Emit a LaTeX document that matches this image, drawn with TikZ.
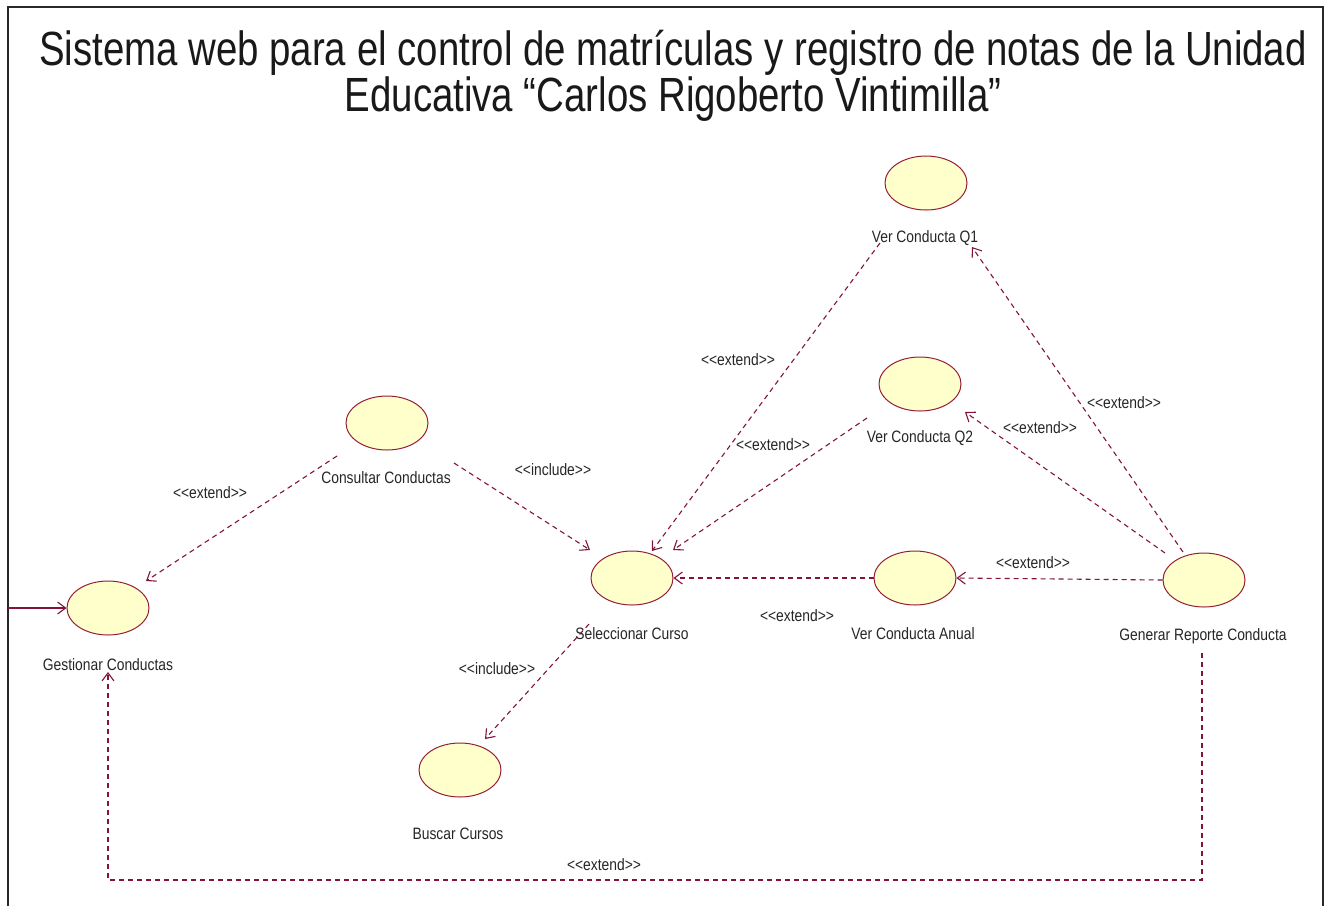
\documentclass[tikz,border=0pt]{standalone}
\usepackage{fontspec}
\setmainfont{Liberation Sans}
\newfontfamily\titlefont[FakeStretch=0.8]{Liberation Sans}
\newfontfamily\lblfont[FakeStretch=0.84]{Liberation Sans}
\usetikzlibrary{arrows.meta,calc,shapes.geometric}
\definecolor{ucfill}{RGB}{255,255,204}
\definecolor{ucline}{RGB}{150,30,55}
\definecolor{conn}{RGB}{130,20,60}
\definecolor{framecol}{RGB}{40,40,40}
\newcommand{\ext}{<\kern0pt<extend>\kern0pt>}
\newcommand{\incl}{<\kern0pt<include>\kern0pt>}
\begin{document}
\begin{tikzpicture}[x=1pt,y=-1pt,
  usecase/.style={draw=ucline, fill=ucfill, ellipse, minimum width=82pt, minimum height=54pt, inner sep=0pt, line width=1pt},
  uclabel/.style={font={\lblfont\fontsize{16.5}{19}\selectfont}, text=black!85, inner sep=1pt},
  stereo/.style={uclabel},
  titletext/.style={font={\titlefont\fontsize{48}{56}\selectfont}, text=black!90, anchor=base, inner sep=0pt},
  dep/.style={draw=conn, dash pattern=on 5pt off 4pt, line width=1.1pt, -{Straight Barb[length=8pt,width=12pt]}},
  assoc/.style={draw=conn, line width=1.1pt, -{Straight Barb[length=8pt,width=12pt]}}
]
\useasboundingbox (0,0) rectangle (1330,906);
\fill[white] (0,0) rectangle (1330,906);
\draw[framecol, line width=2pt] (8,906) -- (8,7) -- (1323,7) -- (1323,906);

\node[titletext] (title1) at (673,65) {Sistema web para el control de matrículas y registro de notas de la Unidad};
\node[titletext] (title2) at (673,111) {Educativa “Carlos Rigoberto Vintimilla”};

% use cases
\node[usecase] (q1) at (926,183) {};
\node[uclabel] (q1l) at (925,238) {Ver Conducta Q1};
\node[usecase] (q2) at (920,384) {};
\node[uclabel] (q2l) at (920,438) {Ver Conducta Q2};
\node[usecase] (cc) at (387,423) {};
\node[uclabel] (ccl) at (386,478) {Consultar Conductas};
\node[usecase] (gc) at (108,608) {};
\node[uclabel] (gcl) at (108,665) {Gestionar Conductas};
\node[usecase] (sc) at (632,578) {};
\node[uclabel] (scl) at (632,634) {Seleccionar Curso};
\node[usecase] (va) at (915,578) {};
\node[uclabel] (val) at (913,634) {Ver Conducta Anual};
\node[usecase] (gr) at (1204,580) {};
\node[uclabel] (grl) at (1203,636) {Generar Reporte Conducta};
\node[usecase] (bc) at (460,770) {};
\node[uclabel] (bcl) at (458,834) {Buscar Cursos};

% actor association
\coordinate (actor) at (8,608);
\draw[assoc] (actor) -- (gc.west);

% dependencies
\draw[dep] ($(cc)+(-50,33)$) -- ($(gc)+(38,-27)$);
\node[stereo] (e1) at (210,493) {\ext};

\draw[dep] ($(cc)+(67,40)$) -- ($(sc)+(-42,-28)$);
\node[stereo] (i1) at (553,470) {\incl};

\draw[dep] ($(q1)+(-46,60)$) -- ($(sc)+(20,-27)$);
\node[stereo] (e2) at (738,360) {\ext};

\draw[dep] ($(q2)+(-53,34)$) -- ($(sc)+(41,-28)$);
\node[stereo] (e3) at (773,445) {\ext};

\draw[dep] (va.west) -- (sc.east);
\node[stereo] (e4) at (797,616) {\ext};

\draw[dep] ($(sc)+(-43,46)$) -- ($(bc)+(25,-31)$);
\node[stereo] (i2) at (497,669) {\incl};

\draw[dep] ($(gr)+(-21,-28)$) -- ($(q1)+(46,64)$);
\node[stereo] (e5) at (1124,403) {\ext};

\draw[dep] ($(gr)+(-39,-27)$) -- ($(q2)+(45,28)$);
\node[stereo] (e6) at (1040,428) {\ext};

\draw[dep] (gr.west) -- (va.east);
\node[stereo] (e7) at (1033,563) {\ext};

\draw[dep] ($(gr)+(-2,73)$) -- ($(gr)+(-2,300)$) -| ($(gc)+(0,64)$);
\node[stereo] (e8) at (604,865) {\ext};
\end{tikzpicture}
\end{document}
